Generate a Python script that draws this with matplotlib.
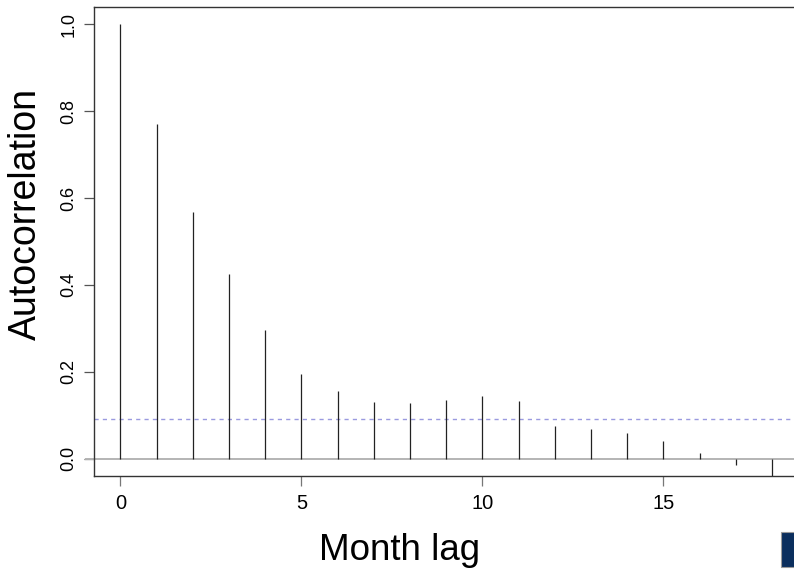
import numpy as np
import matplotlib
matplotlib.use("Agg")
import matplotlib.pyplot as plt
from matplotlib.patches import Rectangle

plt.rcParams["font.family"] = ["Liberation Sans", "DejaVu Sans"]

# ── data ─────────────────────────────────────────────────────────────────────
LAGS = list(range(19))
ACF = [1.000, 0.771, 0.568, 0.425, 0.297, 0.196, 0.156, 0.131, 0.129,
       0.136, 0.145, 0.133, 0.074, 0.068, 0.058, 0.041, 0.012, -0.014, -0.045]
CI_UPPER = 0.092
X_TICKS = [0, 5, 10, 15]
Y_TICKS = [0.0, 0.2, 0.4, 0.6, 0.8, 1.0]


def main():
    fig = plt.figure(figsize=(7.94, 5.73), dpi=100)
    W, H = 794, 573
    # axes box runs off the right edge like in the cropped reference
    ax = fig.add_axes([94.3 / W, 1 - 476 / H, (798 - 94.3) / W, (476 - 7) / H])

    ax.set_xlim(-0.72, 18.72)
    ax.set_ylim(-0.04, 1.04)

    # zero line (reaches a little past the left box edge)
    ax.plot([-0.95, 19.0], [0, 0], color="#b4b4b4", lw=1.4, zorder=2,
            clip_on=False)

    # ACF spikes
    ax.vlines(LAGS, 0, ACF, color="#222222", lw=0.9, zorder=3)

    # significance bound
    ax.axhline(CI_UPPER, color="#9a9ae0", lw=1.0, ls=(0, (3, 3)), zorder=2)

    for s in ax.spines.values():
        s.set_color("#333333")
        s.set_linewidth(1.0)

    ax.set_xticks(X_TICKS)
    ax.set_xticklabels([str(t) for t in X_TICKS], fontsize=14.5)
    ax.set_yticks(Y_TICKS)
    ax.set_yticklabels([f"{t:.1f}" for t in Y_TICKS], fontsize=13,
                       rotation=90, va="center")
    ax.tick_params(axis="x", length=7, width=0.9, color="#777777", pad=6)
    ax.tick_params(axis="y", length=7, width=0.9, color="#555555", pad=5)

    fig.text(400 / W, 1 - 550 / H, "Month lag", fontsize=26.5,
             ha="center", va="center")
    fig.text(26 / W, 1 - 214 / H, "Autocorrelation", fontsize=27,
             ha="center", va="center", rotation=90)

    # fragment of a dark box at the lower right corner of the crop
    fig.patches.append(Rectangle((781 / W, 1 - 567 / H), 20 / W, 35 / H,
                                 transform=fig.transFigure,
                                 facecolor="#0b2f5e", edgecolor="#9a9a9a",
                                 lw=0.8))

    fig.savefig("out.png", dpi=100)
    plt.close(fig)


if __name__ == "__main__":
    main()
